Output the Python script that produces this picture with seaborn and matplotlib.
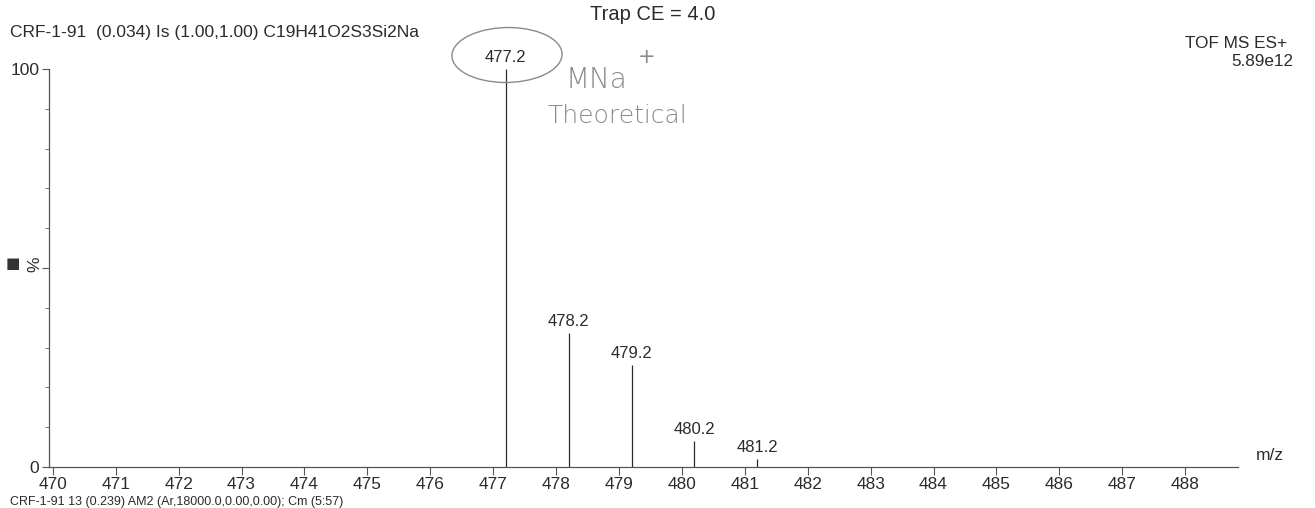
import matplotlib
matplotlib.use("Agg")
import matplotlib.pyplot as plt
from matplotlib.patches import Ellipse
import seaborn as sns
import numpy as np
import pandas as pd

# Theoretical isotope pattern for the sodium adduct
mz = [477.2, 478.2, 479.2, 480.2, 481.2]
intensity = [100.0, 33.6, 25.6, 6.5, 2.0]
peak_labels = ["477.2", "478.2", "479.2", "480.2", "481.2"]
x_ticks = list(range(470, 489))

header = "CRF-1-91  (0.034) Is (1.00,1.00) C19H41O2S3Si2Na"
footer = "CRF-1-91 13 (0.239) AM2 (Ar,18000.0,0.00,0.00); Cm (5:57)"
title = "Trap CE = 4.0"
instrument = "TOF MS ES+"
base_peak = "5.89e12"

sns.set_theme(style="ticks")
plt.rcParams["font.family"] = ["Liberation Sans", "DejaVu Sans"]

W, H = 1315, 508
fig = plt.figure(figsize=(W / 100, H / 100), dpi=100)
ax = fig.add_axes([49 / W, 1 - 467 / H, (1238 - 49) / W, (467 - 61) / H])

df = pd.DataFrame({"mz": mz, "intensity": intensity, "label": peak_labels})
ink = "#2b2b2b"

ax.vlines(df["mz"], 0, df["intensity"], color=ink, lw=0.9)
for _, r in df.iterrows():
    ax.annotate(r["label"], (r["mz"], r["intensity"]), xytext=(0, 3),
                textcoords="offset points", ha="center", va="bottom",
                fontsize=12, color=ink)

ax.set_xlim(469.94, 488.84)
ax.set_ylim(0, 102)
sns.despine(ax=ax)
ax.spines["left"].set_bounds(0, 100)
for s in ("left", "bottom"):
    ax.spines[s].set_color("#555555")
    ax.spines[s].set_linewidth(0.9)

ax.set_xticks(x_ticks)
ax.set_xticklabels([str(t) for t in x_ticks], fontsize=12.4, color=ink)
ax.tick_params(axis="x", direction="out", length=6, width=0.8, color="#555555", pad=1.5)

ax.set_yticks([0, 50, 100])
ax.set_yticklabels(["0", "", "100"], fontsize=12.6, color=ink)
ax.set_yticks(np.arange(10, 100, 10), minor=True)
ax.tick_params(axis="y", which="major", direction="out", length=5, width=0.8, color="#555555", pad=2)
ax.tick_params(axis="y", which="minor", direction="out", length=3, width=0.7, color="#777777")
ax.grid(False)

def fx(px):
    return px / W

def fy(py):
    return 1 - py / H

# axis captions
fig.text(fx(35), fy(264), "%", rotation=90, ha="center", va="center", fontsize=12.5, color=ink)
fig.text(fx(13), fy(263), "\u25A0", ha="center", va="center", fontsize=11, color="#333333",
         family=["DejaVu Sans"])
fig.text(fx(1256), fy(455), "m/z", ha="left", va="center", fontsize=12.5, color=ink)

# header block
fig.text(fx(653), fy(15), title, ha="center", va="center", fontsize=14.5, color=ink)
fig.text(fx(10), fy(33), header, ha="left", va="center", fontsize=12.5, color=ink)
fig.text(fx(1287), fy(44), instrument, ha="right", va="center", fontsize=12.3, color=ink)
fig.text(fx(1293), fy(62), base_peak, ha="right", va="center", fontsize=12.3, color=ink)
fig.text(fx(10), fy(507.8), footer, ha="left", va="bottom", fontsize=9, color=ink)

# pen annotation around the monoisotopic peak
pen = "#8a8a8a"
ell = Ellipse((fx(507), fy(55)), width=fx(110), height=55 / H, transform=fig.transFigure,
              fill=False, edgecolor=pen, lw=1.0, angle=-3)
fig.add_artist(ell)
fig.text(fx(565), fy(80), "MNa", ha="left", va="center", fontsize=20, color=pen,
         family=["DejaVu Sans"], fontweight="light")
fig.text(fx(638), fy(57), "+", ha="left", va="center", fontsize=15, color=pen,
         family=["DejaVu Sans"])
fig.text(fx(548), fy(116), "Theoretical", ha="left", va="center", fontsize=18, color=pen,
         family=["DejaVu Sans"], fontweight="light")

fig.savefig("out.png", dpi=100)
